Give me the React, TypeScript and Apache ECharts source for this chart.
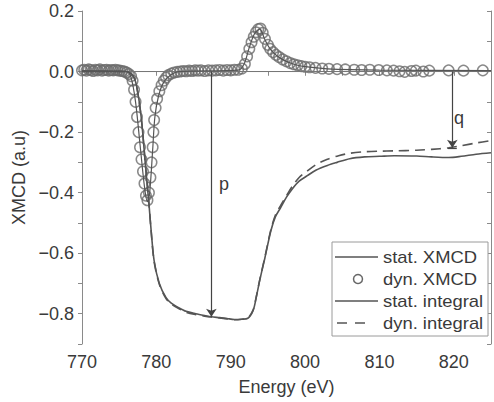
import React, { useEffect, useRef } from 'react';
import * as echarts from 'echarts';

// ---- data (energy in eV, XMCD in a.u.) ----
const dynXmcd: [number, number][] = [
  [770.0, 0.004], [770.3, 0.006], [770.6, 0.003], [770.9, 0.007], [771.2, 0.005], [771.5, 0.002],
  [771.8, 0.006], [772.1, 0.004], [772.4, 0.007], [772.7, 0.003], [773.0, 0.005], [773.3, 0.006],
  [773.6, 0.003], [773.9, 0.005], [774.2, 0.004], [774.5, 0.006], [774.8, 0.004], [775.1, 0.003],
  [775.4, 0.002], [775.7, 0.0], [776.0, -0.003], [776.3, -0.008], [776.6, -0.015], [776.8, -0.03],
  [777.0, -0.06], [777.2, -0.1], [777.4, -0.15], [777.6, -0.2], [777.8, -0.25], [778.0, -0.29],
  [778.2, -0.33], [778.4, -0.37], [778.6, -0.41], [778.8, -0.425], [779.0, -0.4], [779.2, -0.35],
  [779.35, -0.3], [779.5, -0.25], [779.6, -0.2], [779.7, -0.16], [779.9, -0.12], [780.1, -0.09],
  [780.4, -0.065], [780.7, -0.045], [781.0, -0.03], [781.3, -0.02], [781.6, -0.012], [782.0, -0.007],
  [782.4, -0.003], [782.8, -0.001], [783.2, 0.0], [783.6, 0.002], [784.0, 0.001], [784.4, 0.003],
  [784.8, 0.002], [785.2, 0.004], [785.6, 0.003], [786.0, 0.004], [786.5, 0.002], [787.0, 0.004],
  [787.5, 0.003], [788.0, 0.004], [788.5, 0.005], [789.0, 0.003], [789.5, 0.005], [790.0, 0.004],
  [790.5, 0.006], [791.0, 0.006], [791.5, 0.01], [791.9, 0.025], [792.2, 0.05], [792.5, 0.075],
  [792.8, 0.097], [793.1, 0.115], [793.4, 0.13], [793.7, 0.14], [794.0, 0.142], [794.3, 0.128],
  [794.6, 0.108], [795.0, 0.088], [795.3, 0.075], [795.7, 0.064], [796.1, 0.055], [796.5, 0.048],
  [797.0, 0.04], [797.5, 0.034], [798.0, 0.028], [798.5, 0.024], [799.0, 0.021], [799.5, 0.018],
  [800.0, 0.016], [800.6, 0.014], [801.4, 0.012], [802.3, 0.01], [803.2, 0.009], [804.3, 0.008],
  [805.4, 0.007], [806.6, 0.006], [807.6, 0.005], [808.7, 0.006], [809.9, 0.005], [811.0, 0.004],
  [811.9, 0.003], [812.7, 0.001], [813.4, -0.001], [814.3, 0.002], [814.9, 0.003], [815.9, 0.0],
  [816.7, 0.003], [819.3, 0.004], [821.3, 0.003], [823.9, 0.004],
];

const statXmcd: [number, number][] = [
  [770, 0.003], [776, 0.0], [776.6, -0.02], [777.2, -0.1], [777.8, -0.24], [778.4, -0.38],
  [778.8, -0.43], [779.1, -0.4], [779.5, -0.26], [779.8, -0.15], [780.3, -0.08], [781, -0.035],
  [782, -0.01], [783, 0.0], [791, 0.005], [791.8, 0.025], [792.5, 0.08], [793.2, 0.125],
  [793.9, 0.14], [794.6, 0.105], [795.3, 0.075], [796.2, 0.052], [797.2, 0.037], [798.5, 0.024],
  [800, 0.016], [803, 0.009], [810, 0.005], [825, 0.003],
];

const statIntegral: [number, number][] = [
  [770, 0.0], [776, 0.0], [777, -0.02], [777.5, -0.07], [778, -0.16], [778.5, -0.3],
  [779, -0.436], [779.3, -0.526], [779.7, -0.625], [780.4, -0.7], [781.3, -0.747], [782, -0.765],
  [783, -0.78], [784, -0.792], [785.3, -0.8], [786.5, -0.806], [787.4, -0.81], [788.5, -0.813],
  [789.5, -0.816], [790.5, -0.819], [791.5, -0.818], [792.3, -0.815], [793.0, -0.79], [793.4, -0.75],
  [793.9, -0.69], [794.6, -0.615], [795.4, -0.526], [796.0, -0.48], [796.7, -0.45], [797.5, -0.415],
  [798.3, -0.387], [799.2, -0.362], [800.3, -0.344], [801.5, -0.325], [803, -0.31], [804.3, -0.3],
  [806, -0.288], [808, -0.282], [810, -0.28], [812, -0.278], [815, -0.279], [817, -0.282],
  [819.3, -0.284], [821, -0.28], [823, -0.273], [825, -0.268],
];

const dynIntegral: [number, number][] = [
  [770, 0.0], [776, 0.0], [777, -0.02], [777.5, -0.07], [778, -0.16], [778.5, -0.3],
  [779, -0.436], [779.3, -0.528], [779.7, -0.628], [780.4, -0.703], [781.3, -0.75], [782, -0.768],
  [783, -0.783], [784, -0.795], [785.3, -0.803], [786.5, -0.808], [787.4, -0.811], [788.5, -0.814],
  [789.5, -0.817], [790.5, -0.82], [791.5, -0.818], [792.3, -0.814], [793.0, -0.788], [793.4, -0.748],
  [793.9, -0.688], [794.6, -0.612], [795.4, -0.522], [796.0, -0.475], [796.7, -0.443], [797.5, -0.41],
  [798.3, -0.378], [799.2, -0.35], [800.3, -0.328], [801.5, -0.307], [803, -0.29], [804.5, -0.278],
  [806, -0.27], [808, -0.265], [810, -0.263], [812, -0.262], [815, -0.26], [817, -0.257],
  [819.3, -0.252], [821, -0.245], [823, -0.236], [825, -0.228],
];

const baseline: [number, number][] = [[770, 0], [825, 0]];

const pArrow = { energy: 787.4, from: 0, to: -0.81, label: 'p', labelAt: [789.1, -0.37] };
const qArrow = { energy: 819.8, from: 0, to: -0.252, label: 'q', labelAt: [820.7, -0.155] };

const legendLabels = ['stat. XMCD', 'dyn. XMCD', 'stat. integral', 'dyn. integral'];

const X_MIN = 770;
const X_MAX = 825;
const X_STEP = 5;
const Y_MIN = -0.9;
const Y_MAX = 0.2;
const Y_STEP = 0.1;

const FONT = '"Liberation Sans", Arial, Helvetica, sans-serif';
const TEXT = '#3a3a3a';
const AXIS = '#8a8a8a';
const LINE = '#555555';

export default function App() {
  const ref = useRef<HTMLDivElement>(null);

  useEffect(() => {
    if (!ref.current) return;
    const chart = echarts.init(ref.current, null, { renderer: 'svg' });

    const yFmt = (v: number) => {
      const r = Math.round(v * 10);
      if (Math.abs(r) % 2 !== 0) return '';
      const s = (Math.abs(r) / 10).toFixed(1);
      return r < 0 ? '\u2212' + s : s;
    };
    const xFmt = (v: number) => (Math.round(v) % 10 === 0 && v < X_MAX ? String(Math.round(v)) : '');

    const legendRows = [257, 279, 301, 323];
    const legendGraphics: any[] = [
      {
        type: 'rect',
        shape: { x: 332, y: 242, width: 156, height: 94 },
        style: { fill: '#ffffff', stroke: '#9a9a9a', lineWidth: 1 },
        z: 100,
      },
      { type: 'line', shape: { x1: 335, y1: legendRows[0], x2: 378, y2: legendRows[0] }, style: { stroke: LINE, lineWidth: 1.5 }, z: 101 },
      { type: 'circle', shape: { cx: 358, cy: legendRows[1], r: 4.5 }, style: { fill: 'none', stroke: '#666', lineWidth: 1.5 }, z: 101 },
      { type: 'line', shape: { x1: 335, y1: legendRows[2], x2: 378, y2: legendRows[2] }, style: { stroke: LINE, lineWidth: 1.5 }, z: 101 },
      { type: 'line', shape: { x1: 337, y1: legendRows[3], x2: 366, y2: legendRows[3] }, style: { stroke: LINE, lineWidth: 1.5, lineDash: [10, 8] }, z: 101 },
      ...legendLabels.map((t, i) => ({
        type: 'group',
        x: 383,
        y: legendRows[i],
        scaleX: 1.15,
        scaleY: 1,
        z: 101,
        children: [
          {
            type: 'text',
            z: 101,
            style: { text: t, fontSize: 16, fontFamily: FONT, fill: TEXT, verticalAlign: 'middle', align: 'left' },
          },
        ],
      })),
    ];

    const arrowStyle = { color: '#444', width: 1.2, type: 'solid' as const };

    chart.setOption({
      animation: false,
      backgroundColor: '#ffffff',
      grid: { left: 82, top: 11, right: 0, bottom: 58, containLabel: false },
      xAxis: [
        {
          type: 'value', min: X_MIN, max: X_MAX, interval: X_STEP, position: 'bottom',
          axisLine: { show: true, lineStyle: { color: AXIS, width: 1 } },
          axisTick: { show: true, length: 4, lineStyle: { color: AXIS } },
          axisLabel: { formatter: xFmt, fontSize: 18, color: TEXT, fontFamily: FONT, margin: 9 },
          splitLine: { show: false },
          name: 'Energy (eV)', nameLocation: 'middle', nameGap: 34,
          nameTextStyle: { fontSize: 18, color: TEXT, fontFamily: FONT },
        },
        {
          type: 'value', min: X_MIN, max: X_MAX, interval: X_STEP, position: 'top',
          axisLine: { show: true, lineStyle: { color: AXIS, width: 1 } },
          axisTick: { show: true, inside: true, length: 4, lineStyle: { color: AXIS } },
          axisLabel: { show: false },
          splitLine: { show: false },
        },
      ],
      yAxis: [
        {
          type: 'value', min: Y_MIN, max: Y_MAX, interval: Y_STEP, position: 'left',
          axisLine: { show: true, lineStyle: { color: AXIS, width: 1 } },
          axisTick: { show: true, length: 4, lineStyle: { color: AXIS } },
          axisLabel: { formatter: yFmt, fontSize: 18, color: TEXT, fontFamily: FONT, margin: 8 },
          splitLine: { show: false },
          name: 'XMCD (a.u)', nameLocation: 'middle', nameGap: 44,
          nameTextStyle: { fontSize: 18, color: TEXT, fontFamily: FONT },
        },
        {
          type: 'value', min: Y_MIN, max: Y_MAX, interval: Y_STEP, position: 'right',
          axisLine: { show: true, lineStyle: { color: AXIS, width: 1 } },
          axisTick: { show: true, inside: true, length: 4, lineStyle: { color: AXIS } },
          axisLabel: { show: false },
          splitLine: { show: false },
        },
      ],
      series: [
        {
          name: 'baseline', type: 'line', data: baseline, symbol: 'none', silent: true,
          lineStyle: { color: '#777', width: 1 },
          markLine: {
            silent: true, symbol: ['none', 'arrow'], symbolSize: 8,
            label: { show: false }, lineStyle: arrowStyle,
            data: [
              [{ coord: [pArrow.energy, pArrow.from] }, { coord: [pArrow.energy, pArrow.to] }],
              [{ coord: [qArrow.energy, qArrow.from] }, { coord: [qArrow.energy, qArrow.to] }],
              [
                { coord: [qArrow.energy - 0.6, qArrow.to], symbol: 'none' },
                { coord: [qArrow.energy + 0.6, qArrow.to], symbol: 'none' },
              ],
            ],
          },
          markPoint: {
            silent: true, symbol: 'circle', symbolSize: 0,
            label: { show: true, position: 'inside', fontSize: 18, color: TEXT, fontFamily: FONT },
            data: [
              { coord: pArrow.labelAt, value: pArrow.label, label: { formatter: pArrow.label } },
              { coord: qArrow.labelAt, value: qArrow.label, label: { formatter: qArrow.label } },
            ],
          },
        },
        {
          name: 'stat. integral', type: 'line', data: statIntegral, symbol: 'none', smooth: 0.3,
          lineStyle: { color: LINE, width: 1.6 },
        },
        {
          name: 'dyn. integral', type: 'line', data: dynIntegral, symbol: 'none', smooth: 0.3,
          lineStyle: { color: LINE, width: 1.6, type: [10, 6] },
        },
        {
          name: 'stat. XMCD', type: 'line', data: statXmcd, symbol: 'none', smooth: 0.3,
          lineStyle: { color: LINE, width: 1.2 },
        },
        {
          name: 'dyn. XMCD', type: 'scatter', data: dynXmcd, symbol: 'circle', symbolSize: 10.5,
          itemStyle: { color: 'rgba(255,255,255,0)', borderColor: '#6b6b6b', borderWidth: 1.5 },
        },
      ],
      graphic: legendGraphics,
    });

    return () => chart.dispose();
  }, []);

  return <div ref={ref} style={{ position: 'absolute', left: 0, top: 0, width: 494, height: 402 }} />;
}
